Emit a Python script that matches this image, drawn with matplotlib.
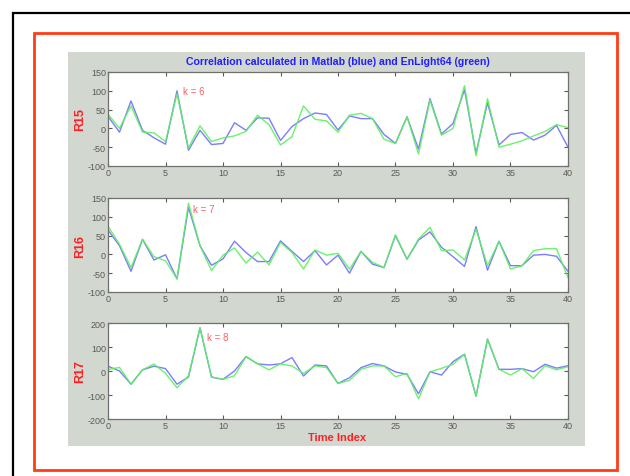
# correlation plots, Matlab (blue) vs EnLight64 (green)
import matplotlib.pyplot as plt
from matplotlib.patches import Rectangle
import numpy as np

plt.rcParams['font.family'] = ['Liberation Sans', 'DejaVu Sans']
plt.rcParams['axes.unicode_minus'] = False

t = np.arange(41)

r15_matlab = [32, -10, 73, -5, -25, -42, 100, -58, -5, -43, -40, 15, -5, 28, 27, -32, 5,
              26, 41, 37, -4, 33, 26, 26, -16, -40, 31, -55, 79, -15, 13, 103, -66, 68,
              -44, -16, -11, -31, -18, 8, -50]
r15_enlight = [38, 0, 60, -10, -12, -35, 92, -52, 7, -35, -25, -20, -8, 35, 10, -44, -22,
               60, 24, 20, -10, 35, 40, 26, -29, -40, 31, -68, 75, -18, 0, 114, -73, 79,
               -50, -42, -33, -20, -8, 10, 2]

r16_matlab = [65, 23, -45, 40, -15, -1, -65, 125, 23, -29, -12, 35, 5, -19, -19, 36, 8,
              -19, 10, -28, -2, -50, 8, -26, -35, 50, -13, 38, 60, 19, -6, -32, 74, -42,
              35, -30, -30, -2, 0, -5, -45]
r16_enlight = [75, 27, -35, 40, -6, -17, -65, 136, 23, -43, -2, 17, -23, 6, -28, 32, 5,
               -39, 12, -2, 3, -39, 8, -21, -35, 52, -13, 41, 72, 10, 12, -15, 67, -30,
               35, -39, -30, 10, 15, 15, -62]

r17_matlab = [20, 0, -55, 5, 20, 10, -55, -25, 180, -25, -35, 0, 60, 30, 25, 30, 56,
              -21, 25, 21, -52, -28, 14, 31, 21, -4, -14, -95, -3, -17, 39, 70, -105, 133,
              7, 7, 10, -3, 28, 12, 22]
r17_enlight = [6, 15, -55, 5, 29, -10, -70, -20, 180, -25, -35, -20, 60, 30, 5, 30, 21,
               -10, 21, 14, -52, -39, 7, 21, 21, -24, -10, -116, -3, 11, 28, 70, -105, 133,
               7, -17, 10, -31, 22, 5, 18]

panels = [
    ("R15", r15_matlab, r15_enlight, [-100, -50, 0, 50, 100, 150], "k = 6", (6.5, 100)),
    ("R16", r16_matlab, r16_enlight, [-100, -50, 0, 50, 100, 150], "k = 7", (7.4, 122)),
    ("R17", r17_matlab, r17_enlight, [-200, -100, 0, 100, 200], "k = 8", (8.6, 142)),
]

W, H = 630, 477
fig = plt.figure(figsize=(W / 100, H / 100), dpi=100)
fig.patch.set_facecolor("white")


def px(x0, y0, x1, y1):
    # pixel box (top-left origin) -> figure fraction [left, bottom, width, height]
    return [x0 / W, 1 - y1 / H, (x1 - x0) / W, (y1 - y0) / H]


# outer frames
l, b, w, h = px(13, 14, 640, 490)
fig.add_artist(Rectangle((l, b), w, h, transform=fig.transFigure,
                         fill=False, edgecolor="black", lw=1.6, zorder=-3))
l, b, w, h = px(34, 34, 617, 471)
fig.add_artist(Rectangle((l, b), w, h, transform=fig.transFigure,
                         fill=False, edgecolor="#ff3c14", lw=2.0, zorder=-3))
# matlab grey figure background
l, b, w, h = px(68, 53, 585, 447)
fig.add_artist(Rectangle((l, b), w, h, transform=fig.transFigure,
                         facecolor="#d2d7cf", edgecolor="none", zorder=-2))

boxes = [(108, 73, 568, 167), (108, 199, 568, 293), (108, 324, 568, 420)]

for (name, blue, green, yt, klabel, kpos), box in zip(panels, boxes):
    ax = fig.add_axes(px(*box))
    ax.set_facecolor("white")
    ax.plot(t, blue, color="#7c7cff", lw=1.0)
    ax.plot(t, green, color="#5cf05c", lw=1.0, alpha=0.9)
    ax.set_xlim(0, 40)
    ax.set_ylim(yt[0], yt[-1])
    ax.set_xticks(range(0, 41, 5))
    ax.set_yticks(yt)
    ax.tick_params(direction="in", length=3, labelsize=6.5, colors="#5a5a5a",
                   top=True, right=True, pad=1.5)
    for s in ax.spines.values():
        s.set_color("#707070")
        s.set_linewidth(0.9)
    ax.text(kpos[0], kpos[1], klabel, color="#ff6060", fontsize=7, va="center")
    cy = 1 - (box[1] + box[3]) / 2 / H
    fig.text(80 / W, cy, name, color="#ff2020", fontsize=9, fontweight="bold",
             rotation=90, ha="center", va="center")

fig.text(338 / W, 1 - 62 / H, "Correlation calculated in Matlab (blue) and EnLight64 (green)",
         color="#2020ff", fontsize=7.6, fontweight="bold", ha="center", va="center")
fig.text(337 / W, 1 - 438 / H, "Time Index", color="#ff2020", fontsize=8,
         fontweight="bold", ha="center", va="center")

fig.savefig("out.png", dpi=100)
